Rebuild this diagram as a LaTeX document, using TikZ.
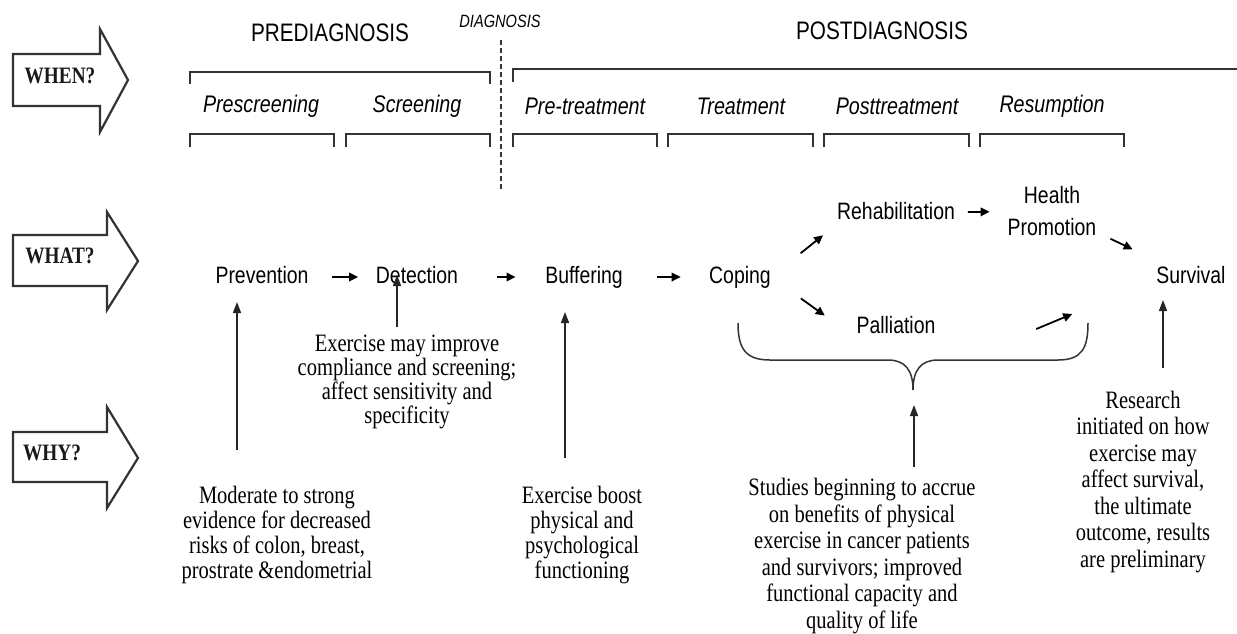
\documentclass[tikz,border=0pt]{standalone}
\usepackage{fontspec}
\setmainfont{Liberation Serif}[FakeStretch=0.82]
\newfontfamily\sansf{Liberation Sans}[FakeStretch=0.82]
\usetikzlibrary{arrows.meta,calc}

\begin{document}
\begin{tikzpicture}[x=1pt,y=-1pt,
  blockarrow/.style={draw=black!80,line width=2.2pt,line join=miter},
  asklabel/.style={font=\bfseries\fontsize{23.5}{24}\selectfont, inner sep=0, text=black!90},
  phase/.style={font=\sansf\fontsize{25.3}{26}\selectfont, inner sep=0},
  stage/.style={font=\sansf\itshape\fontsize{24}{25}\selectfont, inner sep=0},
  what/.style={font=\sansf\fontsize{23.7}{24}\selectfont, inner sep=0, text height=17pt, text depth=5pt},
  why/.style={font=\fontsize{25}{#1}\selectfont, inner sep=0, align=center},
  brk/.style={draw=black!80, line width=1.6pt},
  flow/.style={draw=black, line width=1.8pt, -{Triangle[length=9pt,width=8.5pt]}},
  vflow/.style={draw=black!85, line width=1.6pt, -{Triangle[length=11pt,width=8pt]}},
]
\fill[white] (0,0) rectangle (1237,633);
\useasboundingbox (0,0) rectangle (1237,633);

% left block arrows
\draw[blockarrow] (13,54) -- (100,54) -- (100,29) -- (128,80) -- (100,132) -- (100,106) -- (13,106) -- cycle;
\node[asklabel] (whenq) at (60,76) {WHEN?};
\draw[blockarrow] (13,235) -- (107,235) -- (107,212) -- (138,261) -- (107,310) -- (107,286) -- (13,286) -- cycle;
\node[asklabel] (whatq) at (60,256) {WHAT?};
\draw[blockarrow] (13,432) -- (107,432) -- (107,407) -- (138,458) -- (107,508) -- (107,482) -- (13,482) -- cycle;
\node[asklabel] (whyq) at (52,453) {WHY?};

% phases
\node[phase] (prediag) at (330,33) {PREDIAGNOSIS};
\node[font=\sansf\itshape\fontsize{17.8}{18}\selectfont, inner sep=0] (diag) at (500,21) {DIAGNOSIS};
\node[phase] (postdiag) at (882,31) {POSTDIAGNOSIS};
\draw[brk] (190,84) |- (490,72) -- (490,84);
\draw[brk] (513,82) |- (1237,69);
\coordinate (dtop) at (501,40);
\coordinate (dbot) at (501,190);
\draw[black!80, line width=1.2pt, dash pattern=on 5pt off 3pt] (dtop) -- (dbot);

% stages
\node[stage] (s1) at (261,106) {Prescreening};
\node[stage] (s2) at (417,106) {Screening};
\node[stage] (s3) at (585,106) {Pre-treatment};
\node[stage] (s4) at (741,106) {Treatment};
\node[stage] (s5) at (897,106) {Posttreatment};
\node[stage] (s6) at (1052,106) {Resumption};
\foreach \a/\b in {190/334, 346/490, 513/657, 668/813, 824/969, 980/1124}
  \draw[brk] (\a,147) |- (\b,134) -- (\b,147);

% what row
\node[what] (prev) at (262,277) {Prevention};
\node[what] (det) at (417,277) {Detection};
\node[what] (buff) at (584,277) {Buffering};
\node[what] (cope) at (740,277) {Coping};
\node[what] (rehab) at (896,213) {Rehabilitation};
\node[font=\sansf\fontsize{23.7}{32}\selectfont, inner sep=0, align=center] (hp) at (1052,211) {Health\\Promotion};
\node[what] (surv) at (1191,277) {Survival};
\node[what] (pall) at (896,327) {Palliation};

\draw[flow] ($(prev)!0.45!(det)$) -- ($(prev)!0.62!(det)$);
\draw[flow] ($(det)!0.48!(buff)$) -- ($(det)!0.59!(buff)$);
\draw[flow] ($(buff)!0.47!(cope)$) -- ($(buff)!0.62!(cope)$);
\draw[flow] ($(cope.east)!0.45!(rehab.south west)$) -- ($(cope.east)!0.79!(rehab.south west)$);
\draw[flow] ($(rehab)!0.46!(hp)$) -- ($(rehab)!0.60!(hp)$);
\draw[flow] ($(hp)!0.42!(surv)$) -- ($(hp)!0.58!(surv)$);
\draw[flow] ($(cope.east)!0.35!(pall.south west)$) -- ($(cope.east)!0.63!(pall.south west)$);
\draw[flow] ([shift={(-120,52)}]surv.west) -- ([shift={(-84,37)}]surv.west);

% brace
\coordinate (bL) at (738,323);
\coordinate (bR) at (1088,323);
\coordinate (btip) at (913,390);
\draw[brk, line width=1.5pt] (bL) .. controls (738,348) and (745,360) .. (770,360) -- (888,360)
  .. controls (905,360) and (913,370) .. (btip)
  .. controls (913,370) and (921,360) .. (938,360) -- (1058,360)
  .. controls (1082,360) and (1088,348) .. (bR);

% why texts
\node[why=22] (exmay) at (407,382) {Exercise may improve\\compliance and screening;\\affect sensitivity and\\specificity};
\node[why=25] (moder) at (277,535) {Moderate to strong\\evidence for decreased\\risks of colon, breast,\\prostrate \&endometrial};
\node[why=25] (boost) at (582,535) {Exercise boost\\physical and\\psychological\\functioning};
\node[why=26.5] (studies) at (862,556) {Studies beginning to accrue\\on benefits of physical\\exercise in cancer patients\\and survivors; improved\\functional capacity and\\quality of life};
\node[why=26.5] (research) at (1143,482) {Research\\initiated on how\\exercise may\\affect survival,\\the ultimate\\outcome, results\\are preliminary};

\draw[vflow] ([shift={(-40,-85)}]moder.center) -- ([shift={(-25,25)}]prev.center);
\draw[vflow] ([shift={(-10,-55)}]exmay.center) -- ([shift={(-20,-2)}]det.center);
\draw[vflow] ([shift={(-17,-77)}]boost.center) -- ([shift={(-19,35)}]buff.center);
\draw[vflow] ([shift={(52,-89)}]studies.center) -- ([shift={(1,15)}]btip);
\draw[vflow] ([shift={(20,-114)}]research.center) -- ([shift={(-28,23)}]surv.center);
\end{tikzpicture}
\end{document}
